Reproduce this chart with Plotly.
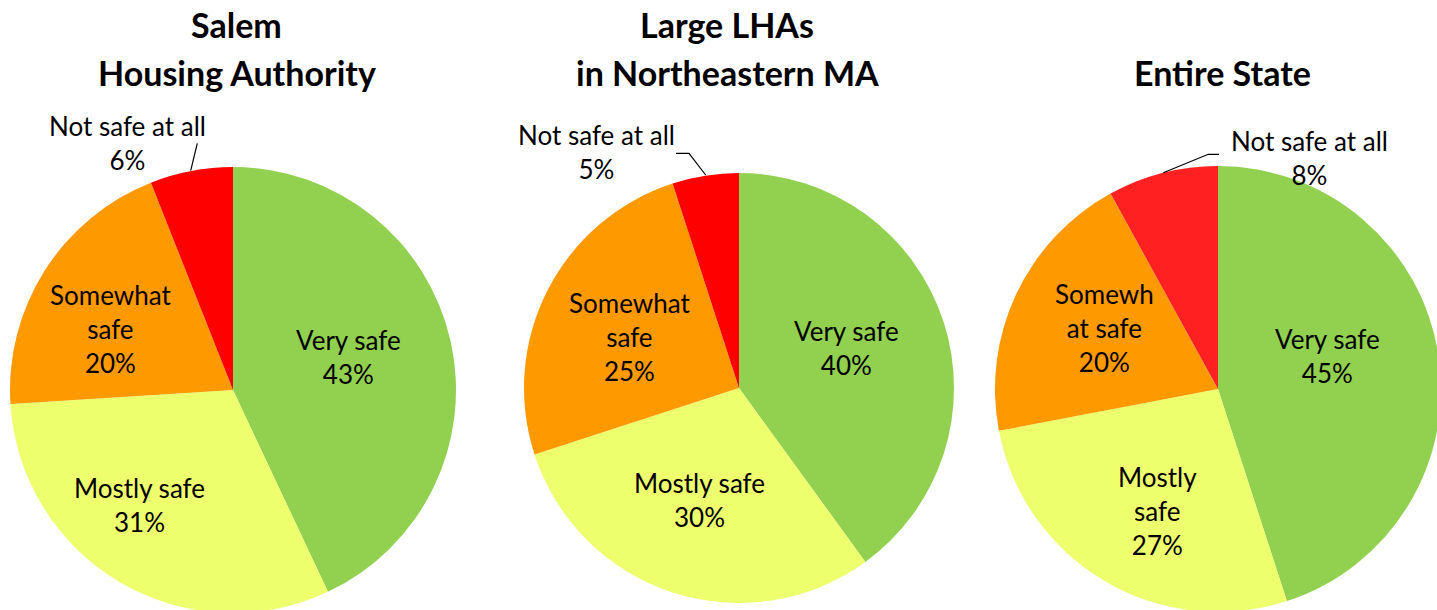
import plotly.graph_objects as go

# ---------------- data ----------------
categories = ["Very safe", "Mostly safe", "Somewhat safe", "Not safe at all"]
salem_values = [43, 31, 20, 6]
large_lha_values = [40, 30, 25, 5]
state_values = [45, 27, 20, 8]

salem_title = ["Salem", "Housing Authority"]
large_lha_title = ["Large LHAs", "in Northeastern MA"]
state_title = ["Entire State"]

# data-label wording as wrapped in the original chart
salem_labels = ["Very safe", "Mostly safe", "Somewhat<br>safe", "Not safe at all"]
large_lha_labels = ["Very safe", "Mostly safe", "Somewhat<br>safe", "Not safe at all"]
state_labels = ["Very safe", "Mostly<br>safe", "Somewh<br>at safe", "Not safe at all"]

colors_a = ["#92D050", "#EEFF6E", "#FF9900", "#FF0000"]
colors_b = ["#92D050", "#EEFF6E", "#FF9900", "#FF2121"]

# ---------------- layout helpers (pixels) ----------------
W, H = 1445, 616
FONT = "Lato"


def px(x):
    return x / W


def py(y):
    return 1 - y / H


pies = [
    dict(values=salem_values, labels=salem_labels, title=salem_title, colors=colors_a,
         c=(233, 390), r=223, tx=237,
         lpos=[(348, 357), (139, 505), (110, 329), (127, 143)],
         leader=[(197.3, 143.3), (190.7, 170.7)]),
    dict(values=large_lha_values, labels=large_lha_labels, title=large_lha_title, colors=colors_a,
         c=(739, 388), r=215, tx=727,
         lpos=[(846, 348), (699, 500), (629, 337), (596, 152)],
         leader=[(676, 153.3), (689, 153.3), (705.7, 175)]),
    dict(values=state_values, labels=state_labels, title=state_title, colors=colors_b,
         c=(1218, 389), r=223, tx=1222,
         lpos=[(1327, 356), (1157, 511), (1104, 328), (1309, 158)],
         leader=[(1219, 154.3), (1208.3, 154.3), (1163.3, 172.7)]),
]

fig = go.Figure()
annotations = []
shapes = []

for p in pies:
    cx, cy = p["c"]
    r = p["r"]
    fig.add_trace(go.Pie(
        values=p["values"],
        labels=categories,
        sort=False,
        direction="clockwise",
        rotation=0,
        marker=dict(colors=p["colors"], line=dict(width=0)),
        textinfo="none",
        hoverinfo="label+percent",
        showlegend=False,
        domain=dict(x=[px(cx - r), px(cx + r)], y=[py(cy + r), py(cy - r)]),
    ))
    # titles
    title_ys = [24, 73] if len(p["title"]) == 2 else [73]
    for line, ty in zip(p["title"], title_ys):
        annotations.append(dict(
            x=px(p["tx"]), y=py(ty), xref="paper", yref="paper",
            text=line, showarrow=False, xanchor="center", yanchor="middle",
            font=dict(family=FONT, size=34, color="black", weight=700),
        ))
    # data labels
    for lab, val, (lx, ly) in zip(p["labels"], p["values"], p["lpos"]):
        annotations.append(dict(
            x=px(lx), y=py(ly), xref="paper", yref="paper",
            text=f"{lab}<br>{val}%", showarrow=False, xanchor="center", yanchor="middle",
            align="center",
            font=dict(family=FONT, size=26, color="black"),
        ))
    # leader line
    path = "M " + " L ".join(f"{px(x)},{py(y)}" for x, y in p["leader"])
    shapes.append(dict(type="path", xref="paper", yref="paper", path=path,
                       line=dict(color="black", width=1.2)))

fig.update_layout(
    width=W, height=H,
    margin=dict(l=0, r=0, t=0, b=0),
    paper_bgcolor="white",
    plot_bgcolor="white",
    annotations=annotations,
    shapes=shapes,
    font=dict(family=FONT),
)

fig.write_html(
    "out.html",
    config={"displayModeBar": False},
    post_script="document.documentElement.style.overflow='hidden';"
                "document.body.style.overflow='hidden';"
                "document.body.style.margin='0';",
)
